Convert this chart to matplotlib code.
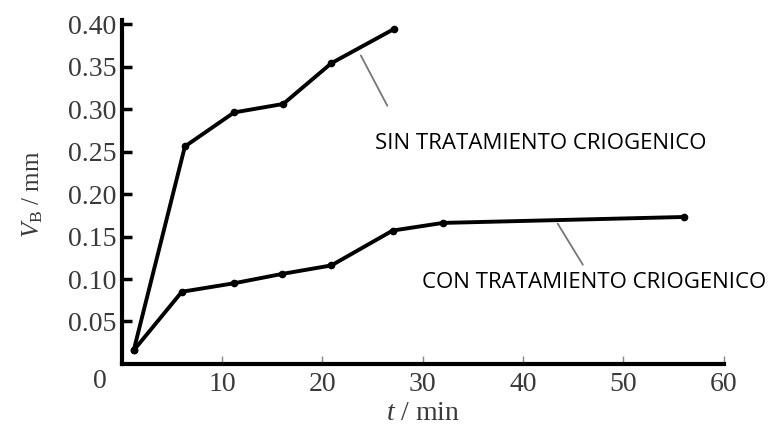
import matplotlib
matplotlib.use('Agg')
import matplotlib.pyplot as plt

# tiempo (min) y desgaste V_B (mm)
t_sin = [1.2, 6.3, 11.2, 16.1, 20.9, 27.1]
vb_sin = [0.016, 0.256, 0.296, 0.306, 0.354, 0.394]
t_con = [1.2, 6.0, 11.2, 16.0, 20.9, 27.0, 32.0, 56.0]
vb_con = [0.016, 0.085, 0.095, 0.106, 0.116, 0.157, 0.166, 0.173]

x_ticks = [10, 20, 30, 40, 50, 60]
y_ticks = [0.05, 0.10, 0.15, 0.20, 0.25, 0.30, 0.35, 0.40]

label_sin = 'SIN TRATAMIENTO CRIOGENICO'
label_con = 'CON TRATAMIENTO CRIOGENICO'


def main():
    plt.rcParams['mathtext.fontset'] = 'custom'
    plt.rcParams['mathtext.rm'] = 'Liberation Serif'
    plt.rcParams['mathtext.it'] = 'Liberation Serif:italic'

    fig = plt.figure(figsize=(7.7, 4.38), dpi=100)
    ax = fig.add_axes([0.158, 0.169, 0.782, 0.776])
    serif = 'Liberation Serif'
    grey = '#3a3a3a'

    ax.plot(t_sin, vb_sin, color='black', lw=2.8, marker='o', ms=4.5, solid_joinstyle='round')
    ax.plot(t_con, vb_con, color='black', lw=2.8, marker='o', ms=4.5, solid_joinstyle='round')

    ax.set_xlim(0, 60)
    ax.set_ylim(0, 0.40)
    ax.spines['top'].set_visible(False)
    ax.spines['right'].set_visible(False)
    for side in ('left', 'bottom'):
        ax.spines[side].set_linewidth(3)
    ax.spines['left'].set_bounds(0, 0.405)

    ax.set_xticks(x_ticks)
    ax.set_xticklabels([str(v) for v in x_ticks])
    ax.set_yticks(y_ticks)
    ax.set_yticklabels(['%.2f' % v for v in y_ticks])
    ax.tick_params(axis='y', direction='in', length=7, width=2.5, pad=4,
                   labelsize=20, labelcolor=grey)
    ax.tick_params(axis='x', direction='in', length=6, width=1, color='#888888',
                   pad=6, labelsize=20, labelcolor=grey)
    for lab in ax.get_xticklabels() + ax.get_yticklabels():
        lab.set_family(serif)

    ax.text(-2.2, -0.021, '0', family=serif, fontsize=20, color=grey,
            ha='center', va='center')

    ax.set_xlabel(r'$t$ / min', family=serif, fontsize=20, color=grey, labelpad=3)
    ax.set_ylabel(r'$V_{\rm B}$ / mm', family=serif, fontsize=18, color=grey, labelpad=16)

    # leader lines and labels
    ax.annotate('', xy=(23.7, 0.366), xytext=(26.6, 0.301),
                arrowprops=dict(arrowstyle='-', color='#777777', lw=1.3))
    ax.annotate('', xy=(43.3, 0.168), xytext=(46.1, 0.114),
                arrowprops=dict(arrowstyle='-', color='#777777', lw=1.3))
    ax.text(25.2, 0.259, label_sin, family='Open Sans', fontsize=16,
            color='black', ha='left', va='center')
    ax.text(29.9, 0.096, label_con, family='Open Sans', fontsize=16,
            color='black', ha='left', va='center')

    fig.savefig('out.png', dpi=100)


if __name__ == '__main__':
    main()
